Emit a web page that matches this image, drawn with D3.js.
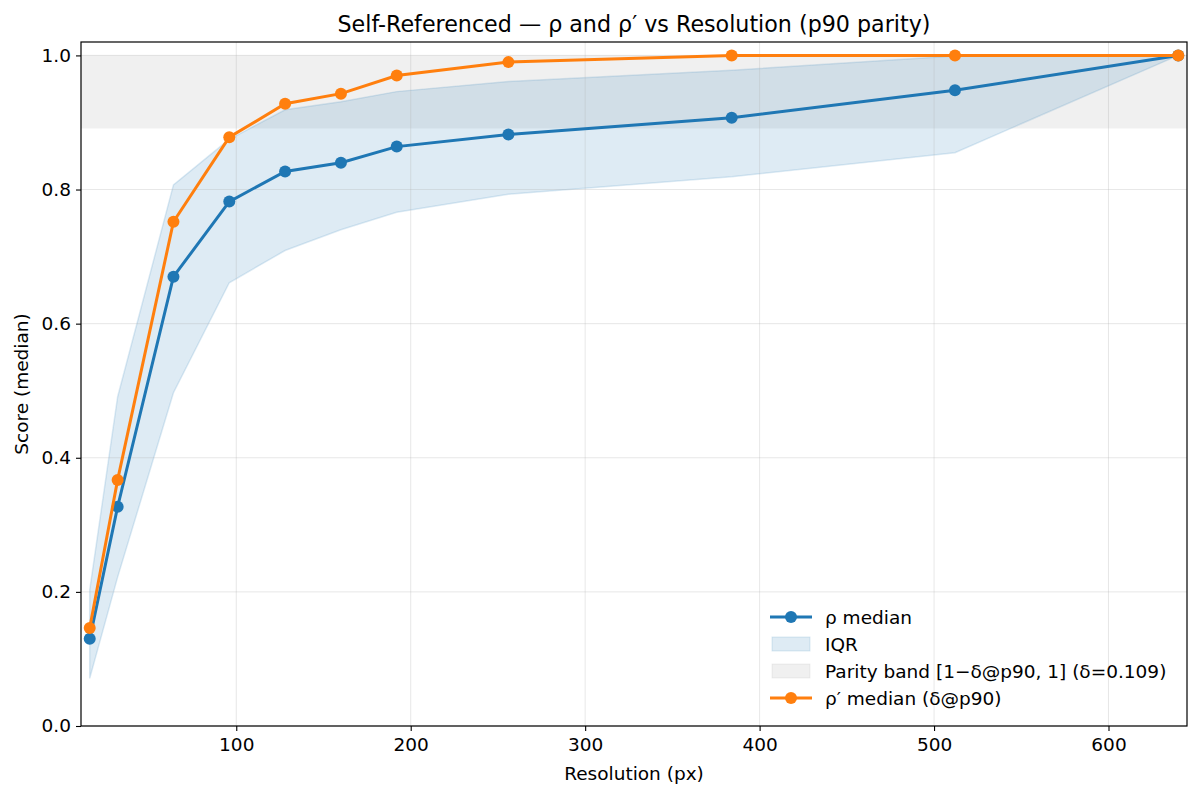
<!DOCTYPE html>
<html>
<head>
<meta charset="utf-8">
<script src="https://cdn.jsdelivr.net/npm/d3@7"></script>
<style>
  body { margin: 0; background: #fff; }
  text { font-family: "DejaVu Sans", sans-serif; }
</style>
</head>
<body>
<svg width="1200" height="796"></svg>
<script>
// data
const resolutions = [16, 32, 64, 96, 128, 160, 192, 256, 384, 512, 640];
const rhoMedian   = [0.130, 0.327, 0.670, 0.782, 0.827, 0.840, 0.864, 0.882, 0.907, 0.948, 1.0];
const rhoPrime    = [0.146, 0.367, 0.752, 0.878, 0.928, 0.943, 0.970, 0.990, 1.0, 1.0, 1.0];
const iqrLow      = [0.071, 0.222, 0.497, 0.661, 0.709, 0.740, 0.766, 0.793, 0.819, 0.855, 1.0];
const iqrHigh     = [0.203, 0.491, 0.807, 0.875, 0.919, 0.931, 0.946, 0.961, 0.978, 0.999, 1.0];
const delta = 0.109;
const xTicks = [100, 200, 300, 400, 500, 600];
const yTicks = [0, 0.2, 0.4, 0.6, 0.8, 1.0];
const legendLabels = ["ρ median", "IQR", "Parity band [1−δ@p90, 1] (δ=0.109)", "ρ′ median (δ@p90)"];

const blue = "#1f77b4", orange = "#ff7f0e";
const F = 18.5;

const svg = d3.select("svg");
const W = +svg.attr("width");
const H = +svg.attr("height");
const M = {top: 42, right: 13, bottom: 70, left: 81};

const x = d3.scaleLinear().domain([11, 645]).range([M.left, W - M.right]);
const y = d3.scaleLinear().domain([0, 1.02]).range([H - M.bottom, M.top]);

const rows = resolutions.map((r, i) => ({r, lo: iqrLow[i], hi: iqrHigh[i], m: rhoMedian[i], p: rhoPrime[i]}));

const plot = svg.append("g");
plot.append("defs").append("clipPath").attr("id", "clip")
    .append("rect")
    .attr("x", M.left).attr("y", M.top)
    .attr("width", W - M.left - M.right).attr("height", H - M.top - M.bottom);

// parity band
plot.append("rect")
    .attr("x", M.left)
    .attr("width", W - M.left - M.right)
    .attr("y", y(1))
    .attr("height", y(1 - delta) - y(1))
    .attr("fill", "#808080")
    .attr("fill-opacity", 0.12);

// IQR band
const area = d3.area()
    .x(d => x(d.r))
    .y0(d => y(d.lo))
    .y1(d => y(d.hi));
plot.append("path")
    .attr("d", area(rows))
    .attr("fill", blue)
    .attr("fill-opacity", 0.15)
    .attr("stroke", blue)
    .attr("stroke-opacity", 0.15)
    .attr("stroke-width", 1.5);

// grid
const grid = plot.append("g").attr("stroke", "#b0b0b0").attr("stroke-opacity", 0.3).attr("stroke-width", 1);
grid.selectAll(".gx").data(xTicks).join("line")
    .attr("x1", d => x(d)).attr("x2", d => x(d))
    .attr("y1", M.top).attr("y2", H - M.bottom);
grid.selectAll(".gy").data(yTicks).join("line")
    .attr("x1", M.left).attr("x2", W - M.right)
    .attr("y1", d => y(d)).attr("y2", d => y(d));

// lines + markers
const series = [
    {key: "m", color: blue},
    {key: "p", color: orange}
];
series.forEach(s => {
    const line = d3.line().x(d => x(d.r)).y(d => y(d[s.key]));
    const g = plot.append("g").attr("clip-path", "url(#clip)");
    g.append("path")
        .attr("d", line(rows))
        .attr("fill", "none")
        .attr("stroke", s.color)
        .attr("stroke-width", 3);
    g.selectAll("circle").data(rows).join("circle")
        .attr("cx", d => x(d.r))
        .attr("cy", d => y(d[s.key]))
        .attr("r", 6)
        .attr("fill", s.color);
});

// axes
const xAxis = svg.append("g")
    .attr("transform", `translate(0,${H - M.bottom})`)
    .call(d3.axisBottom(x).tickValues(xTicks).tickFormat(d3.format("d")).tickSize(5).tickPadding(7));
const yAxis = svg.append("g")
    .attr("transform", `translate(${M.left},0)`)
    .call(d3.axisLeft(y).tickValues(yTicks).tickFormat(d3.format(".1f")).tickSize(5).tickPadding(5));
[xAxis, yAxis].forEach(a => {
    a.select(".domain").remove();
    a.selectAll("text").attr("font-size", F).attr("fill", "#000").attr("font-family", "DejaVu Sans");
    a.selectAll("line").attr("stroke", "#000").attr("stroke-width", 1.1);
});

// frame
svg.append("rect")
    .attr("x", M.left).attr("y", M.top)
    .attr("width", W - M.left - M.right).attr("height", H - M.top - M.bottom)
    .attr("fill", "none").attr("stroke", "#000").attr("stroke-width", 1.2);

// labels
svg.append("text")
    .attr("x", (M.left + W - M.right) / 2).attr("y", 32)
    .attr("text-anchor", "middle").attr("font-size", F * 1.2)
    .text("Self-Referenced — ρ and ρ′ vs Resolution (p90 parity)");
svg.append("text")
    .attr("x", (M.left + W - M.right) / 2).attr("y", 780)
    .attr("text-anchor", "middle").attr("font-size", F)
    .text("Resolution (px)");
svg.append("text")
    .attr("transform", `translate(28,${(M.top + H - M.bottom) / 2}) rotate(-90)`)
    .attr("text-anchor", "middle").attr("font-size", F)
    .text("Score (median)");

// legend (no visible frame)
const lg = svg.append("g").attr("transform", "translate(760,617)");
const kinds = ["line", "patchBlue", "patchGray", "lineOrange"];
legendLabels.forEach((lab, i) => {
    const cy = i * 27;
    const it = lg.append("g").attr("transform", `translate(0,${cy})`);
    if (kinds[i] === "line" || kinds[i] === "lineOrange") {
        const c = kinds[i] === "line" ? blue : orange;
        it.append("line").attr("x1", 10).attr("x2", 52).attr("stroke", c).attr("stroke-width", 3);
        it.append("circle").attr("cx", 31).attr("r", 6).attr("fill", c);
    } else {
        const c = kinds[i] === "patchBlue" ? blue : "#808080";
        const op = kinds[i] === "patchBlue" ? 0.15 : 0.12;
        it.append("rect").attr("x", 12).attr("y", -7).attr("width", 38).attr("height", 14)
            .attr("fill", c).attr("fill-opacity", op)
            .attr("stroke", c).attr("stroke-opacity", op);
    }
    it.append("text").attr("x", 65).attr("y", 6.5).attr("font-size", F).text(lab);
});
</script>
</body>
</html>
